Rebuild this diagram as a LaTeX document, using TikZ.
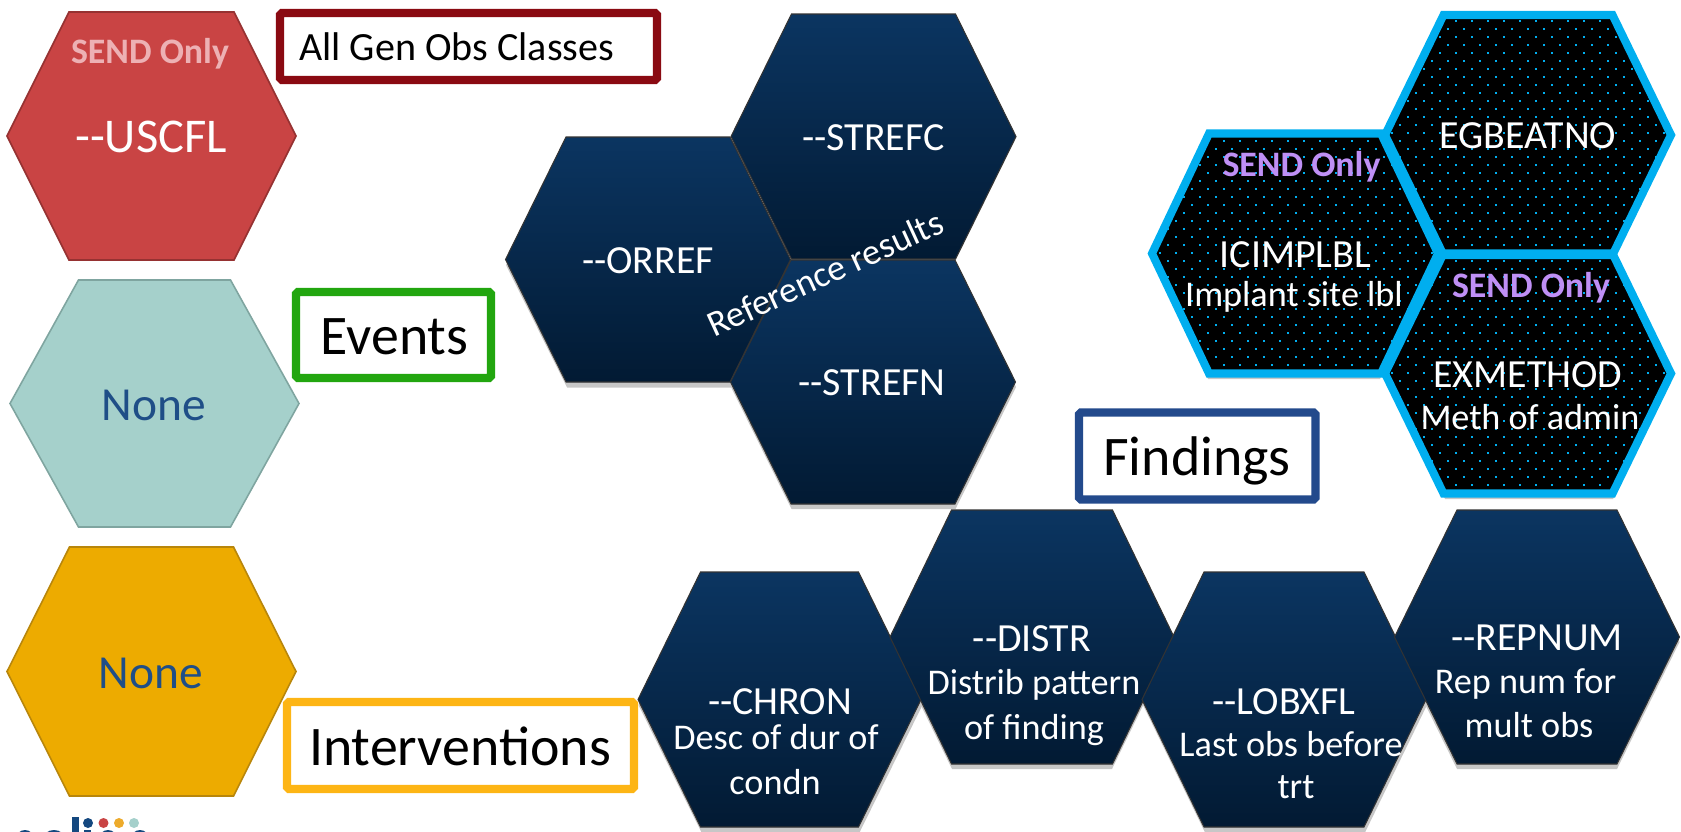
\documentclass[tikz,border=0pt]{standalone}
\usepackage{fontspec}
\setmainfont{Carlito}
\usepackage{xcolor}
\definecolor{hexred}{HTML}{C94444}
\definecolor{hexredline}{HTML}{963232}
\definecolor{sendpink}{HTML}{EDB1B4}
\definecolor{hexteal}{HTML}{A5D0CB}
\definecolor{hextealline}{HTML}{7FA5A0}
\definecolor{hexgold}{HTML}{EDAB00}
\definecolor{hexgoldline}{HTML}{B8860B}
\definecolor{nonetxt}{HTML}{1F4E87}
\definecolor{navytop}{HTML}{0B3561}
\definecolor{navybot}{HTML}{021A33}
\definecolor{cyanline}{HTML}{00AEEF}
\definecolor{sendlilac}{HTML}{BF8FF5}
\definecolor{boxred}{HTML}{8A0A12}
\definecolor{boxgreen}{HTML}{22A60F}
\definecolor{boxblue}{HTML}{234A8C}
\definecolor{boxgold}{HTML}{FDB515}
\definecolor{logoblue}{HTML}{14487F}
\definecolor{logored}{HTML}{C94444}
\definecolor{logogold}{HTML}{EDAB2C}
\definecolor{logoteal}{HTML}{A5D0CB}
% centre x, centre y, half width, half height, half length of the top edge
\newcommand{\hexpath}[5]{(#1-#3,#2) -- (#1-#5,#2-#4) -- (#1+#5,#2-#4) -- (#1+#3,#2) -- (#1+#5,#2+#4) -- (#1-#5,#2+#4) -- cycle}
\tikzset{
  navyhex/.style={draw=black!80, line width=0.6pt, top color=navytop, bottom color=navybot},
  hexshadow/.style={fill=black!22, draw=none},
  cyanhex/.style={draw=cyanline, line width=4.6pt, line join=miter},
  classbox/.style={fill=white, line width=4.6pt, rounded corners=1pt},
  codetxt/.style={font=\fontsize{22.7}{26}\selectfont, text=white, inner sep=0pt, text height=14.6pt, text depth=0pt},
  notetxt/.style={font=\fontsize{20.6}{24}\selectfont, text=white, inner sep=0pt, text height=13.2pt, text depth=0pt},
  sendtxt/.style={font=\fontsize{20.4}{24}\selectfont\bfseries, text=sendlilac, inner sep=0pt, text height=13.1pt, text depth=0pt},
  nonetxtstyle/.style={font=\fontsize{27}{30}\selectfont, text=nonetxt, inner sep=0pt, text height=17.4pt, text depth=0pt},
  classtxt/.style={font=\fontsize{31.8}{36}\selectfont, text=black, inner sep=0pt, text height=20.4pt, text depth=0pt},
}
\begin{document}
\begin{tikzpicture}[x=0.02cm,y=-0.02cm]
  \useasboundingbox (0,0) rectangle (1681,832);
  % Left column
  \draw[fill=hexred, draw=hexredline, line width=0.9pt] \hexpath{151.5}{136}{144.5}{124}{82.5};
  \draw[fill=hexteal, draw=hextealline, line width=0.9pt] \hexpath{154.5}{403.5}{144.5}{123.5}{76};
  \draw[fill=hexgold, draw=hexgoldline, line width=0.9pt] \hexpath{151.5}{671.5}{144.5}{124.5}{82};
  \node[sendtxt, text=sendpink] (sendred) at (150,52) {SEND Only};
  \node[font=\fontsize{27.6}{30}\selectfont, text=white, inner sep=0pt, text height=17.8pt, text depth=0pt] (uscfl) at (151,137) {-{}-USCFL};
  \node[nonetxtstyle] (noneevents) at (154,405) {None};
  \node[nonetxtstyle] (noneinterv) at (151,673) {None};

  % Class boxes
  \draw[classbox, draw=boxred] (280,13) rectangle (657,80);
  \node[font=\fontsize{22.8}{25}\selectfont, inner sep=0pt, anchor=west, text height=14.7pt, text depth=0pt] (allgen) at (299,48) {All Gen Obs Classes};
  \draw[classbox, draw=boxgreen] (296,292) rectangle (491,378);
  \node[classtxt] (events) at (394.5,337) {Events};
  \draw[classbox, draw=boxblue] (1079,412.5) rectangle (1315.5,499.5);
  \node[classtxt] (findings) at (1197,458) {Findings};
  \draw[classbox, draw=boxgold] (287,702) rectangle (634,789);
  \node[classtxt] (interventions) at (460,748) {Interventions};

  % Reference group
  \fill[hexshadow] \hexpath{649}{265}{143}{122.5}{82};
  \fill[hexshadow] \hexpath{874}{137}{142.5}{122.5}{82};
  \fill[hexshadow] \hexpath{873.5}{387}{142.5}{122}{82};
  \draw[navyhex] \hexpath{648}{259.5}{142.5}{122.5}{82};
  \draw[navyhex] \hexpath{873.5}{136.5}{142.5}{122.5}{82};
  \draw[navyhex] \hexpath{873}{382}{142.5}{122}{82};
  \node[codetxt] (orref) at (648,261) {-{}-ORREF};
  \node[codetxt] (strefc) at (873.5,138) {-{}-STREFC};
  \node[codetxt] (strefn) at (872,383) {-{}-STREFN};
  \node[font=\fontsize{20.7}{25}\selectfont, text=white, inner sep=0pt, rotate=24.7] (refres) at (825,273) {Reference results};

  % Bottom row
  \fill[hexshadow] \hexpath{780.5}{705}{142}{127.5}{79};
  \fill[hexshadow] \hexpath{1032}{642}{142}{127}{80};
  \fill[hexshadow] \hexpath{1285}{705}{142}{127.5}{80};
  \fill[hexshadow] \hexpath{1537}{642}{142.5}{127}{80};
  \draw[navyhex] \hexpath{779.5}{699.5}{141.5}{127.5}{79};
  \draw[navyhex] \hexpath{1032}{637}{142}{127}{80.5};
  \draw[navyhex] \hexpath{1284}{699.5}{142}{127.5}{80};
  \draw[navyhex] \hexpath{1537}{637}{142.5}{127}{80};
  \node[codetxt] (chron) at (780,702) {-{}-CHRON};
  \node[notetxt] (chrondesc) at (776,738) {Desc of dur of};
  \node[notetxt] (chronmore) at (775,783) {condn};
  \node[codetxt] (distr) at (1032,639) {-{}-DISTR};
  \node[notetxt] (distrdesc) at (1034,683) {Distrib pattern};
  \node[notetxt] (distrmore) at (1034,728) {of finding};
  \node[codetxt] (lobxfl) at (1284,702) {-{}-LOBXFL};
  \node[notetxt] (lobxdesc) at (1291,745) {Last obs before};
  \node[notetxt] (lobxmore) at (1296,787) {trt};
  \node[codetxt] (repnum) at (1537,638) {-{}-REPNUM};
  \node[notetxt] (repdesc) at (1525.5,682) {Rep num for};
  \node[notetxt] (repmore) at (1529,726) {mult obs};

  % SEND group, black with cyan dots
  \fill[hexshadow] \hexpath{1294}{259}{143}{120}{86};
  \fill[hexshadow] \hexpath{1529}{141}{143}{120}{84};
  \fill[hexshadow] \hexpath{1529}{379}{143}{120}{84};
  \fill[black] \hexpath{1528}{135}{143}{120}{84.5};
  \fill[black] \hexpath{1295}{253.5}{143}{120}{86};
  \fill[black] \hexpath{1528}{373.5}{143}{120}{84.5};
  \begin{scope}
    \clip \hexpath{1528}{135}{143}{120}{84.5} \hexpath{1295}{253.5}{143}{120}{86} \hexpath{1528}{373.5}{143}{120}{84.5};
    \foreach \dotx in {1136,1152,...,1680}
      \foreach \doty in {4.7,20.7,...,500} {
        \fill[cyanline] (\dotx-1,\doty-1) rectangle (\dotx+1,\doty+1);
        \fill[cyanline] (\dotx-9,\doty+7) rectangle (\dotx-7,\doty+9);
      }
  \end{scope}
  \draw[cyanhex] \hexpath{1528}{135}{143}{120}{84.5};
  \draw[cyanhex] \hexpath{1295}{253.5}{143}{120}{86};
  \draw[cyanhex] \hexpath{1528}{373.5}{143}{120}{84.5};
  \node[codetxt] (egbeatno) at (1528,136) {EGBEATNO};
  \node[sendtxt] (sendimplant) at (1301.5,165) {SEND Only};
  \node[codetxt] (icimplbl) at (1295.5,255) {ICIMPLBL};
  \node[notetxt] (implantdesc) at (1294,295) {Implant site lbl};
  \node[sendtxt] (sendmethod) at (1531,286) {SEND Only};
  \node[codetxt] (exmethod) at (1528,375) {EXMETHOD};
  \node[notetxt] (methoddesc) at (1530,418) {Meth of admin};

  % Logo, cut by the lower edge
  \begin{scope}
    \clip (0,0) rectangle (1681,832);
    \fill[logoblue] (25,839) ellipse (9 and 9);
    \fill[logoblue] (54,839) ellipse (11 and 9);
    \fill[logoblue] (72,817) rectangle (79,832);
    \fill[logoblue] (84,830) rectangle (91,832);
    \fill[logoblue] (108,839) ellipse (9 and 9);
    \fill[logoblue] (140,839) ellipse (9 and 9);
    \fill[logoblue] (88,823) circle (5);
    \fill[logored] (103.5,823) circle (5);
    \fill[logogold] (119,823) circle (5);
    \fill[logoteal] (134,823) circle (5);
  \end{scope}
\end{tikzpicture}
\end{document}
